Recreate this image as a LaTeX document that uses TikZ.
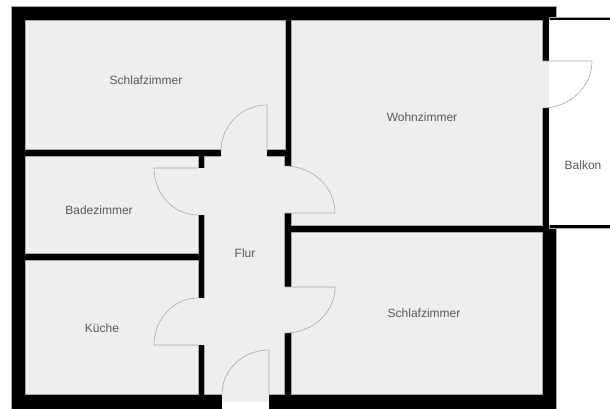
\documentclass[tikz,border=0pt]{standalone}
\usepackage{fontspec}
\setmainfont{Liberation Sans}
\definecolor{roomgrey}{HTML}{EEEEEE}
\definecolor{linegrey}{HTML}{A8A8A8}
\definecolor{textgrey}{HTML}{585858}
\tikzset{
    wall/.style={fill=black, draw=linegrey, line width=0.4pt},
    room/.style={fill=roomgrey, draw=linegrey, line width=0.5pt},
    gap/.style={fill=roomgrey},
    wing/.style={fill=roomgrey, draw=linegrey, line width=0.6pt},
    label/.style={text=textgrey, font=\fontsize{12}{14}\selectfont, inner sep=0pt}
}
\begin{document}
\begin{tikzpicture}[x=1pt,y=1pt]
    \useasboundingbox (0,0) rectangle (610,408);

    % Walls and balcony
    \fill[white] (0,0) rectangle (610,408);
    \draw[wall] (11,-2) rectangle (556,402);
    \draw[wall] (549,387.5) rectangle (612,390.5);
    \draw[wall] (549,180) rectangle (612,183.5);
    \fill[white] (549,183.5) rectangle (612,387.5);

    % Rooms
    \draw[room] (25,259) rectangle (285,388);
    \draw[room] (25,155) rectangle (198,252);
    \draw[room] (25,14) rectangle (198,148);
    \draw[room] (204,14) rectangle (284,252);
    \draw[room] (291,183) rectangle (542,388);
    \draw[room] (291,14) rectangle (542,176);

    % Door openings
    \fill[gap] (221,251) rectangle (267,260);
    \fill[gap] (197,193) rectangle (205,240);
    \fill[gap] (283,195) rectangle (292,242);
    \fill[gap] (197,63) rectangle (205,110);
    \fill[gap] (283,75) rectangle (292,121);
    \fill[gap] (222,6) rectangle (269,15);
    \fill[white] (222,-2) rectangle (269,6);

    % Door wings
    \draw[wing] (267,257) -- (267,303) arc[start angle=90,end angle=180,radius=46pt];
    \draw[wing] (198,240) -- (154,240) arc[start angle=180,end angle=270,x radius=44pt,y radius=47pt];
    \draw[wing] (285,195) -- (335,195) arc[start angle=0,end angle=90,x radius=50pt,y radius=47pt];
    \draw[wing] (198,63) -- (154,63) arc[start angle=180,end angle=90,x radius=44pt,y radius=47pt];
    \draw[wing] (285,121) -- (335,121) arc[start angle=0,end angle=-90,x radius=50pt,y radius=46pt];
    \draw[wing] (269,14) -- (269,58) arc[start angle=90,end angle=180,x radius=47pt,y radius=44pt];

    % Balcony door
    \fill[white] (549,347) -- (592,347) arc[start angle=0,end angle=-90,x radius=50pt,y radius=47pt] -- cycle;
    \fill[gap] (542,300) rectangle (549,347);
    \draw[wing,fill=none] (542,347) -- (592,347) arc[start angle=0,end angle=-90,x radius=50pt,y radius=47pt];

    \node[label] (schlafOben) at (146,328) {Schlafzimmer};
    \node[label] (wohn) at (422,291) {Wohnzimmer};
    \node[label] (balkon) at (583,243) {Balkon};
    \node[label] (bad) at (99,198) {Badezimmer};
    \node[label] (flur) at (245,155) {Flur};
    \node[label] (kueche) at (102,80) {Küche};
    \node[label] (schlafUnten) at (424,95) {Schlafzimmer};
\end{tikzpicture}
\end{document}
